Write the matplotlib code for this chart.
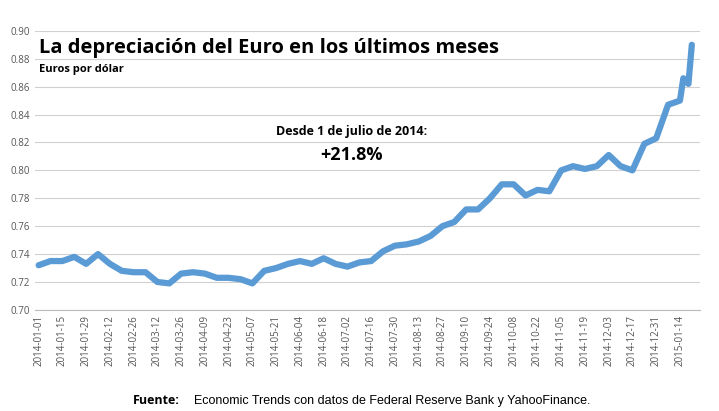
import numpy as np
import pandas as pd
import matplotlib
matplotlib.use("Agg")
import matplotlib.pyplot as plt
import matplotlib.dates as mdates

plt.rcParams['font.family'] = ['Open Sans', 'DejaVu Sans']

dates = pd.to_datetime([
    "2014-01-01", "2014-01-08", "2014-01-15", "2014-01-22", "2014-01-29", "2014-02-05",
    "2014-02-12", "2014-02-19", "2014-02-26", "2014-03-05", "2014-03-12", "2014-03-19",
    "2014-03-26", "2014-04-02", "2014-04-09", "2014-04-16", "2014-04-23", "2014-04-30",
    "2014-05-07", "2014-05-14", "2014-05-21", "2014-05-28", "2014-06-04", "2014-06-11",
    "2014-06-18", "2014-06-25", "2014-07-02", "2014-07-09", "2014-07-16", "2014-07-23",
    "2014-07-30", "2014-08-06", "2014-08-13", "2014-08-20", "2014-08-27", "2014-09-03",
    "2014-09-10", "2014-09-17", "2014-09-24", "2014-10-01", "2014-10-08", "2014-10-15",
    "2014-10-22", "2014-10-29", "2014-11-05", "2014-11-12", "2014-11-19", "2014-11-26",
    "2014-12-03", "2014-12-10", "2014-12-17", "2014-12-24", "2014-12-31", "2015-01-07",
    "2015-01-14", "2015-01-16", "2015-01-19", "2015-01-21"])
euros = [0.732, 0.735, 0.735, 0.738, 0.733, 0.740,
         0.733, 0.728, 0.727, 0.727, 0.720, 0.719,
         0.726, 0.727, 0.726, 0.723, 0.723, 0.722,
         0.719, 0.728, 0.730, 0.733, 0.735, 0.733,
         0.737, 0.733, 0.731, 0.734, 0.735, 0.742,
         0.746, 0.747, 0.749, 0.753, 0.760, 0.763,
         0.772, 0.772, 0.780, 0.790, 0.790, 0.782,
         0.786, 0.785, 0.800, 0.803, 0.801, 0.803,
         0.811, 0.803, 0.800, 0.819, 0.823, 0.847,
         0.850, 0.866, 0.862, 0.890]
tick_dates = pd.date_range("2014-01-01", "2015-01-14", freq="14D")

fig = plt.figure(figsize=(7.19, 4.11), dpi=100)
ax = fig.add_axes([0.049, 0.246, 0.925, 0.679])
ax.plot(dates, euros, color="#5b9bd5", lw=4.5, solid_capstyle="round")
ax.set_ylim(0.70, 0.90)
ax.set_yticks(np.arange(0.70, 0.901, 0.02))
ax.yaxis.set_major_formatter(matplotlib.ticker.FormatStrFormatter("%.2f"))
ax.set_xlim(pd.Timestamp("2013-12-30"), pd.Timestamp("2015-01-26"))
ax.set_xticks(tick_dates)
ax.set_xticklabels([d.strftime("%Y-%m-%d") for d in tick_dates], rotation=90)
ax.tick_params(labelsize=7, colors="#555555", length=0)
ax.grid(axis="y", color="#d0d0d0", lw=0.8)
for s in ["top", "right", "left"]:
    ax.spines[s].set_visible(False)
ax.spines["bottom"].set_color("#bbbbbb")

ax.text(0.005, 0.94, "La depreciación del Euro en los últimos meses", transform=ax.transAxes,
        fontsize=14.5, fontweight="bold", va="center")
ax.text(0.005, 0.86, "Euros por dólar", transform=ax.transAxes, fontsize=8,
        fontweight="bold", va="center")
ax.text(0.475, 0.64, "Desde 1 de julio de 2014:", transform=ax.transAxes, fontsize=9,
        fontweight="bold", ha="center", va="center")
ax.text(0.475, 0.555, "+21.8%", transform=ax.transAxes, fontsize=13,
        fontweight="bold", ha="center", va="center")
fig.text(0.5, 0.025, "", ha="center")
fig.text(0.185, 0.025, "Fuente:", fontsize=9, fontweight="bold", va="center")
fig.text(0.27, 0.025, "Economic Trends con datos de Federal Reserve Bank y YahooFinance.",
         fontsize=9, va="center", family=["Liberation Sans", "DejaVu Sans"])

fig.savefig("out.png", dpi=100)
